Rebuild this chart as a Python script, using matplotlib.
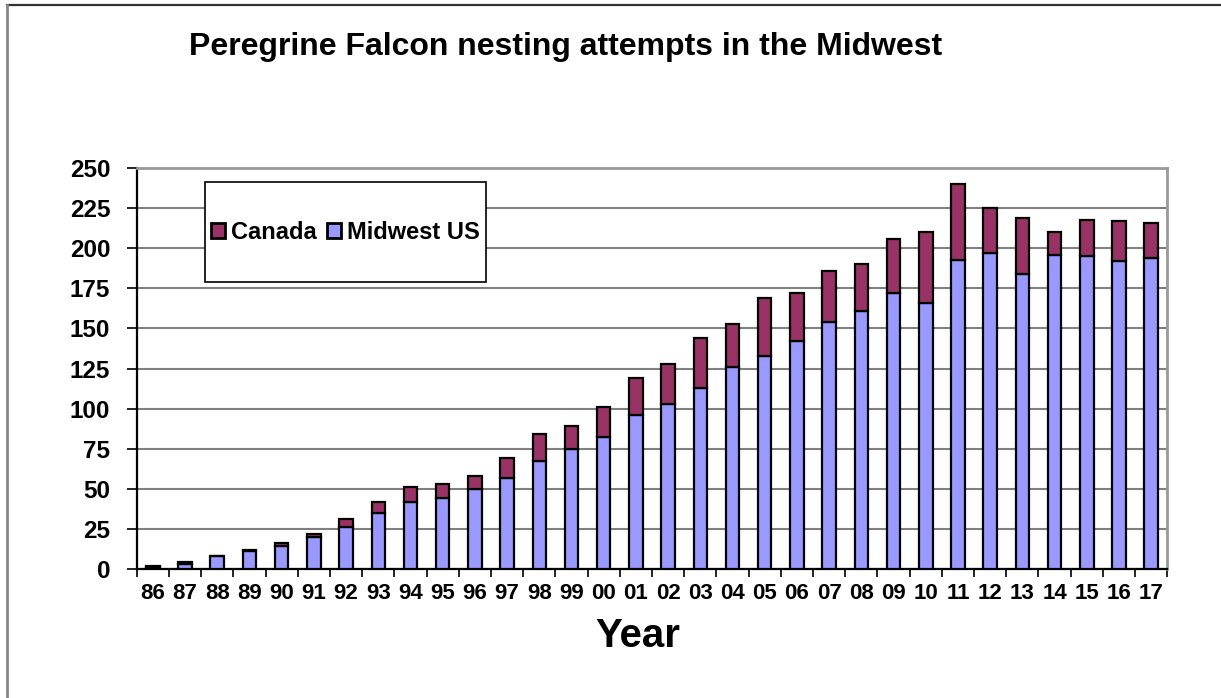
import numpy as np
import matplotlib.pyplot as plt
from matplotlib.patches import Rectangle
from matplotlib.lines import Line2D

plt.rcParams['font.family'] = ['Liberation Sans', 'DejaVu Sans']
plt.rcParams['font.weight'] = 'bold'

# Years and nesting attempts
years = ['86', '87', '88', '89', '90', '91', '92', '93', '94', '95', '96',
         '97', '98', '99', '00', '01', '02', '03', '04', '05', '06', '07',
         '08', '09', '10', '11', '12', '13', '14', '15', '16', '17']
midwest = [1, 3, 8, 11, 14, 20, 26, 35, 42, 44, 50, 57, 67, 75, 82, 96,
           103, 113, 126, 133, 142, 154, 161, 172, 166, 193, 197, 184, 196,
           195, 192, 194]
total = [2, 4, 8, 12, 16, 22, 31, 42, 51, 53, 58, 69, 84, 89, 101, 119,
         128, 144, 153, 169, 172, 186, 190, 206, 210, 240, 225, 219, 210,
         218, 217, 216]
canada = [t - m for t, m in zip(total, midwest)]

c_canada = '#993366'
c_midwest = '#9999FF'

fig = plt.figure(figsize=(12.21, 6.98), dpi=100)
ax = fig.add_axes([0.112, 0.185, 0.844, 0.574])

x = np.arange(len(years))
w = 0.42
ax.bar(x, midwest, w, color=c_midwest, edgecolor='black', linewidth=1.6, zorder=3)
ax.bar(x, canada, w, bottom=midwest, color=c_canada, edgecolor='black', linewidth=1.6, zorder=3)

ax.set_xlim(-0.5, len(years) - 0.5)
ax.set_ylim(0, 250)
ax.set_yticks(np.arange(0, 251, 25))
ax.yaxis.grid(True, color='#808080', linewidth=1.5)
ax.set_axisbelow(True)

ax.set_xticks(x)
ax.set_xticklabels(years, fontsize=16, fontweight='bold')
ax.tick_params(axis='x', length=0, pad=10)
ax.set_xticks(np.arange(-0.5, len(years), 1), minor=True)
ax.tick_params(axis='x', which='minor', length=6, width=1.2, direction='out')
ax.tick_params(axis='y', length=7, width=1.2, labelsize=17.5, pad=12)
for lab in ax.get_yticklabels():
    lab.set_fontweight('bold')

for s in ['left', 'bottom']:
    ax.spines[s].set_color('black')
    ax.spines[s].set_linewidth(1.6)
for s in ['top', 'right']:
    ax.spines[s].set_color('#999999')
    ax.spines[s].set_linewidth(2)

ax.set_xlabel('Year', fontsize=29, fontweight='bold')
ax.xaxis.label.set_va('center')
ax.xaxis.set_label_coords(0.486, -0.167)

# Legend box
box = Rectangle((0.066, 0.716), 0.273, 0.249, transform=ax.transAxes,
                facecolor='white', edgecolor='black', linewidth=1.2, zorder=4)
ax.add_patch(box)
handles = [Rectangle((0, 0), 1, 1, facecolor=c_canada, edgecolor='black', linewidth=2),
           Rectangle((0, 0), 1, 1, facecolor=c_midwest, edgecolor='black', linewidth=2)]
leg = ax.legend(handles, ['Canada', 'Midwest US'], ncol=2, frameon=False,
                loc='center', bbox_to_anchor=(0.066 + 0.273 / 2, 0.716 + 0.249 / 2),
                prop={'weight': 'bold', 'size': 17}, handlelength=0.6, handleheight=0.6,
                handletextpad=0.25, columnspacing=0.45)
leg.set_zorder(5)

fig.text(0.463, 0.933, 'Peregrine Falcon nesting attempts in the Midwest',
         ha='center', va='center', fontsize=23, fontweight='bold')

# outer frame lines
fig.add_artist(Line2D([0.0057, 1.0], [0.993, 0.993], color='#333333', linewidth=1.6,
                      transform=fig.transFigure))
fig.add_artist(Line2D([0.0057, 0.0057], [0.0, 0.993], color='#888888', linewidth=2,
                      transform=fig.transFigure))

plt.savefig('out.png', dpi=100)
